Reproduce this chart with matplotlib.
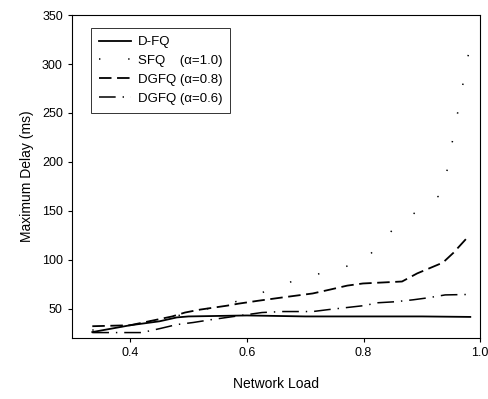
import matplotlib
matplotlib.use("Agg")
import matplotlib.pyplot as plt

plt.rcParams["font.family"] = ["Liberation Sans", "DejaVu Sans"]
plt.rcParams["lines.scale_dashes"] = False

# values (network load vs. maximum delay in ms)
load_dfq = [0.335, 0.40, 0.45, 0.48, 0.50, 0.60, 0.70, 0.80, 0.90, 0.983]
delay_dfq = [26, 33, 37, 41, 42, 43, 42, 42, 42, 41.5]

load_sfq = [0.335, 0.40, 0.50, 0.60, 0.662, 0.72, 0.80, 0.849, 0.888, 0.936, 0.981]
delay_sfq = [28, 33, 45, 60, 75, 85, 98, 130, 148, 168, 314]

load_g08 = [0.335, 0.40, 0.472, 0.494, 0.52, 0.566, 0.585, 0.619, 0.662, 0.713,
            0.743, 0.772, 0.799, 0.866, 0.892, 0.936, 0.954, 0.98]
delay_g08 = [32, 33, 42, 46, 49, 53, 55, 58, 61.5, 65.5, 69.5, 73.5, 75.7, 77.7,
             86, 97, 107, 124]

load_g06 = [0.335, 0.42, 0.451, 0.48, 0.508, 0.54, 0.626, 0.662, 0.713, 0.74,
            0.77, 0.80, 0.825, 0.854, 0.885, 0.91, 0.94, 0.983]
delay_g06 = [25.5, 25.5, 29.6, 33.7, 35.8, 38.8, 46, 47, 47, 49, 51, 53, 56, 57,
             59, 61, 64, 64.5]

x_ticks = [0.4, 0.6, 0.8, 1.0]
x_tick_labels = ["0.4", "0.6", "0.8", "1.0"]
y_ticks = [50, 100, 150, 200, 250, 300, 350]

fig = plt.figure(figsize=(4.89, 3.99), dpi=100)
ax = fig.add_axes([0.147, 0.153, 0.835, 0.809])

ax.plot(load_dfq, delay_dfq, color="black", linewidth=1.3, label="D-FQ")
ax.plot(load_sfq, delay_sfq, color="black", linewidth=1.1, dashes=[1, 20],
        label="SFQ    (α=1.0)")
ax.plot(load_g08, delay_g08, color="black", linewidth=1.3, dashes=[9, 4],
        label="DGFQ (α=0.8)")
ax.plot(load_g06, delay_g06, color="black", linewidth=1.1, dashes=[12, 5, 1, 5],
        label="DGFQ (α=0.6)")

ax.set_xlim(0.3, 1.0)
ax.set_ylim(20, 350)
ax.set_xticks(x_ticks)
ax.set_xticklabels(x_tick_labels)
ax.set_yticks(y_ticks)
ax.tick_params(direction="out", length=3, width=0.8, labelsize=9, colors="black")
for s in ax.spines.values():
    s.set_linewidth(0.8)

ax.set_xlabel("Network Load", fontsize=10, labelpad=13)
ax.set_ylabel("Maximum Delay (ms)", fontsize=10, labelpad=6)

leg = ax.legend(loc="upper left", bbox_to_anchor=(0.048, 0.96), fontsize=9.5,
                frameon=True, fancybox=False, handlelength=2.4, handletextpad=0.5,
                labelspacing=0.5, borderpad=0.6, borderaxespad=0.0)
leg.get_frame().set_edgecolor("black")
leg.get_frame().set_linewidth(0.7)

fig.savefig("out.png", dpi=100)
